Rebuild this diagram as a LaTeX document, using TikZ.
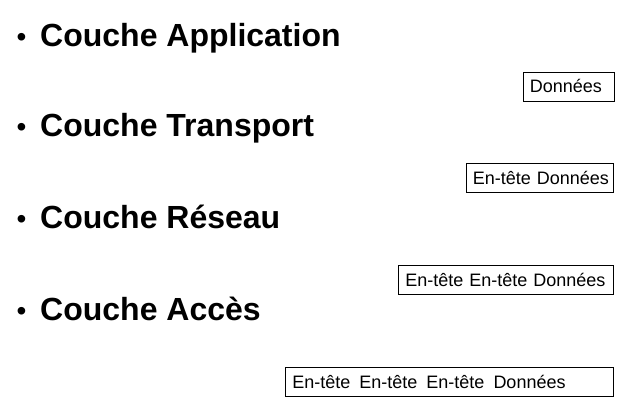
\documentclass[tikz,border=0pt]{standalone}
\usepackage{fontspec}
\setmainfont{Liberation Sans}
\begin{document}
\begin{tikzpicture}[x=1pt,y=-1pt,
  layer/.style={anchor=base west,inner sep=0pt,font=\fontsize{32}{38}\selectfont\bfseries},
  bul/.style={anchor=base,inner sep=0pt,font=\fontsize{28}{32}\selectfont},
  pdu/.style={draw,line width=0.8pt,anchor=north west,inner xsep=7pt,inner ysep=0pt,
    minimum height=29pt,text height=13pt,text depth=0pt,align=left,
    font=\fontsize{18}{21}\selectfont}]
\useasboundingbox (0,0) rectangle (623,402);
% layer titles
\node[bul] (b1) at (21.5,46) {•};
\node[layer] (l1) at (40,46) {Couche Application};
\node[bul] (b2) at (21.5,136) {•};
\node[layer] (l2) at (40,136) {Couche Transport};
\node[bul] (b3) at (21.5,228) {•};
\node[layer] (l3) at (40,228) {Couche Réseau};
\node[bul] (b4) at (21.5,320) {•};
\node[layer] (l4) at (40,320) {Couche Accès};
% data units
\node[pdu,text width=77pt] (d1) at (522.5,71.5) {\mbox{Données}};
\node[pdu,text width=133.5pt] (d2) at (465.5,163) {\mbox{En-tête Données}};
\node[pdu,text width=201pt] (d3) at (398,265) {\mbox{En-tête En-tête Données}};
\node[pdu,text width=314pt] (d4) at (285,367) {\mbox{En-tête\hspace{9pt}En-tête\hspace{9pt}En-tête\hspace{9pt}Données}};
\end{tikzpicture}
\end{document}
